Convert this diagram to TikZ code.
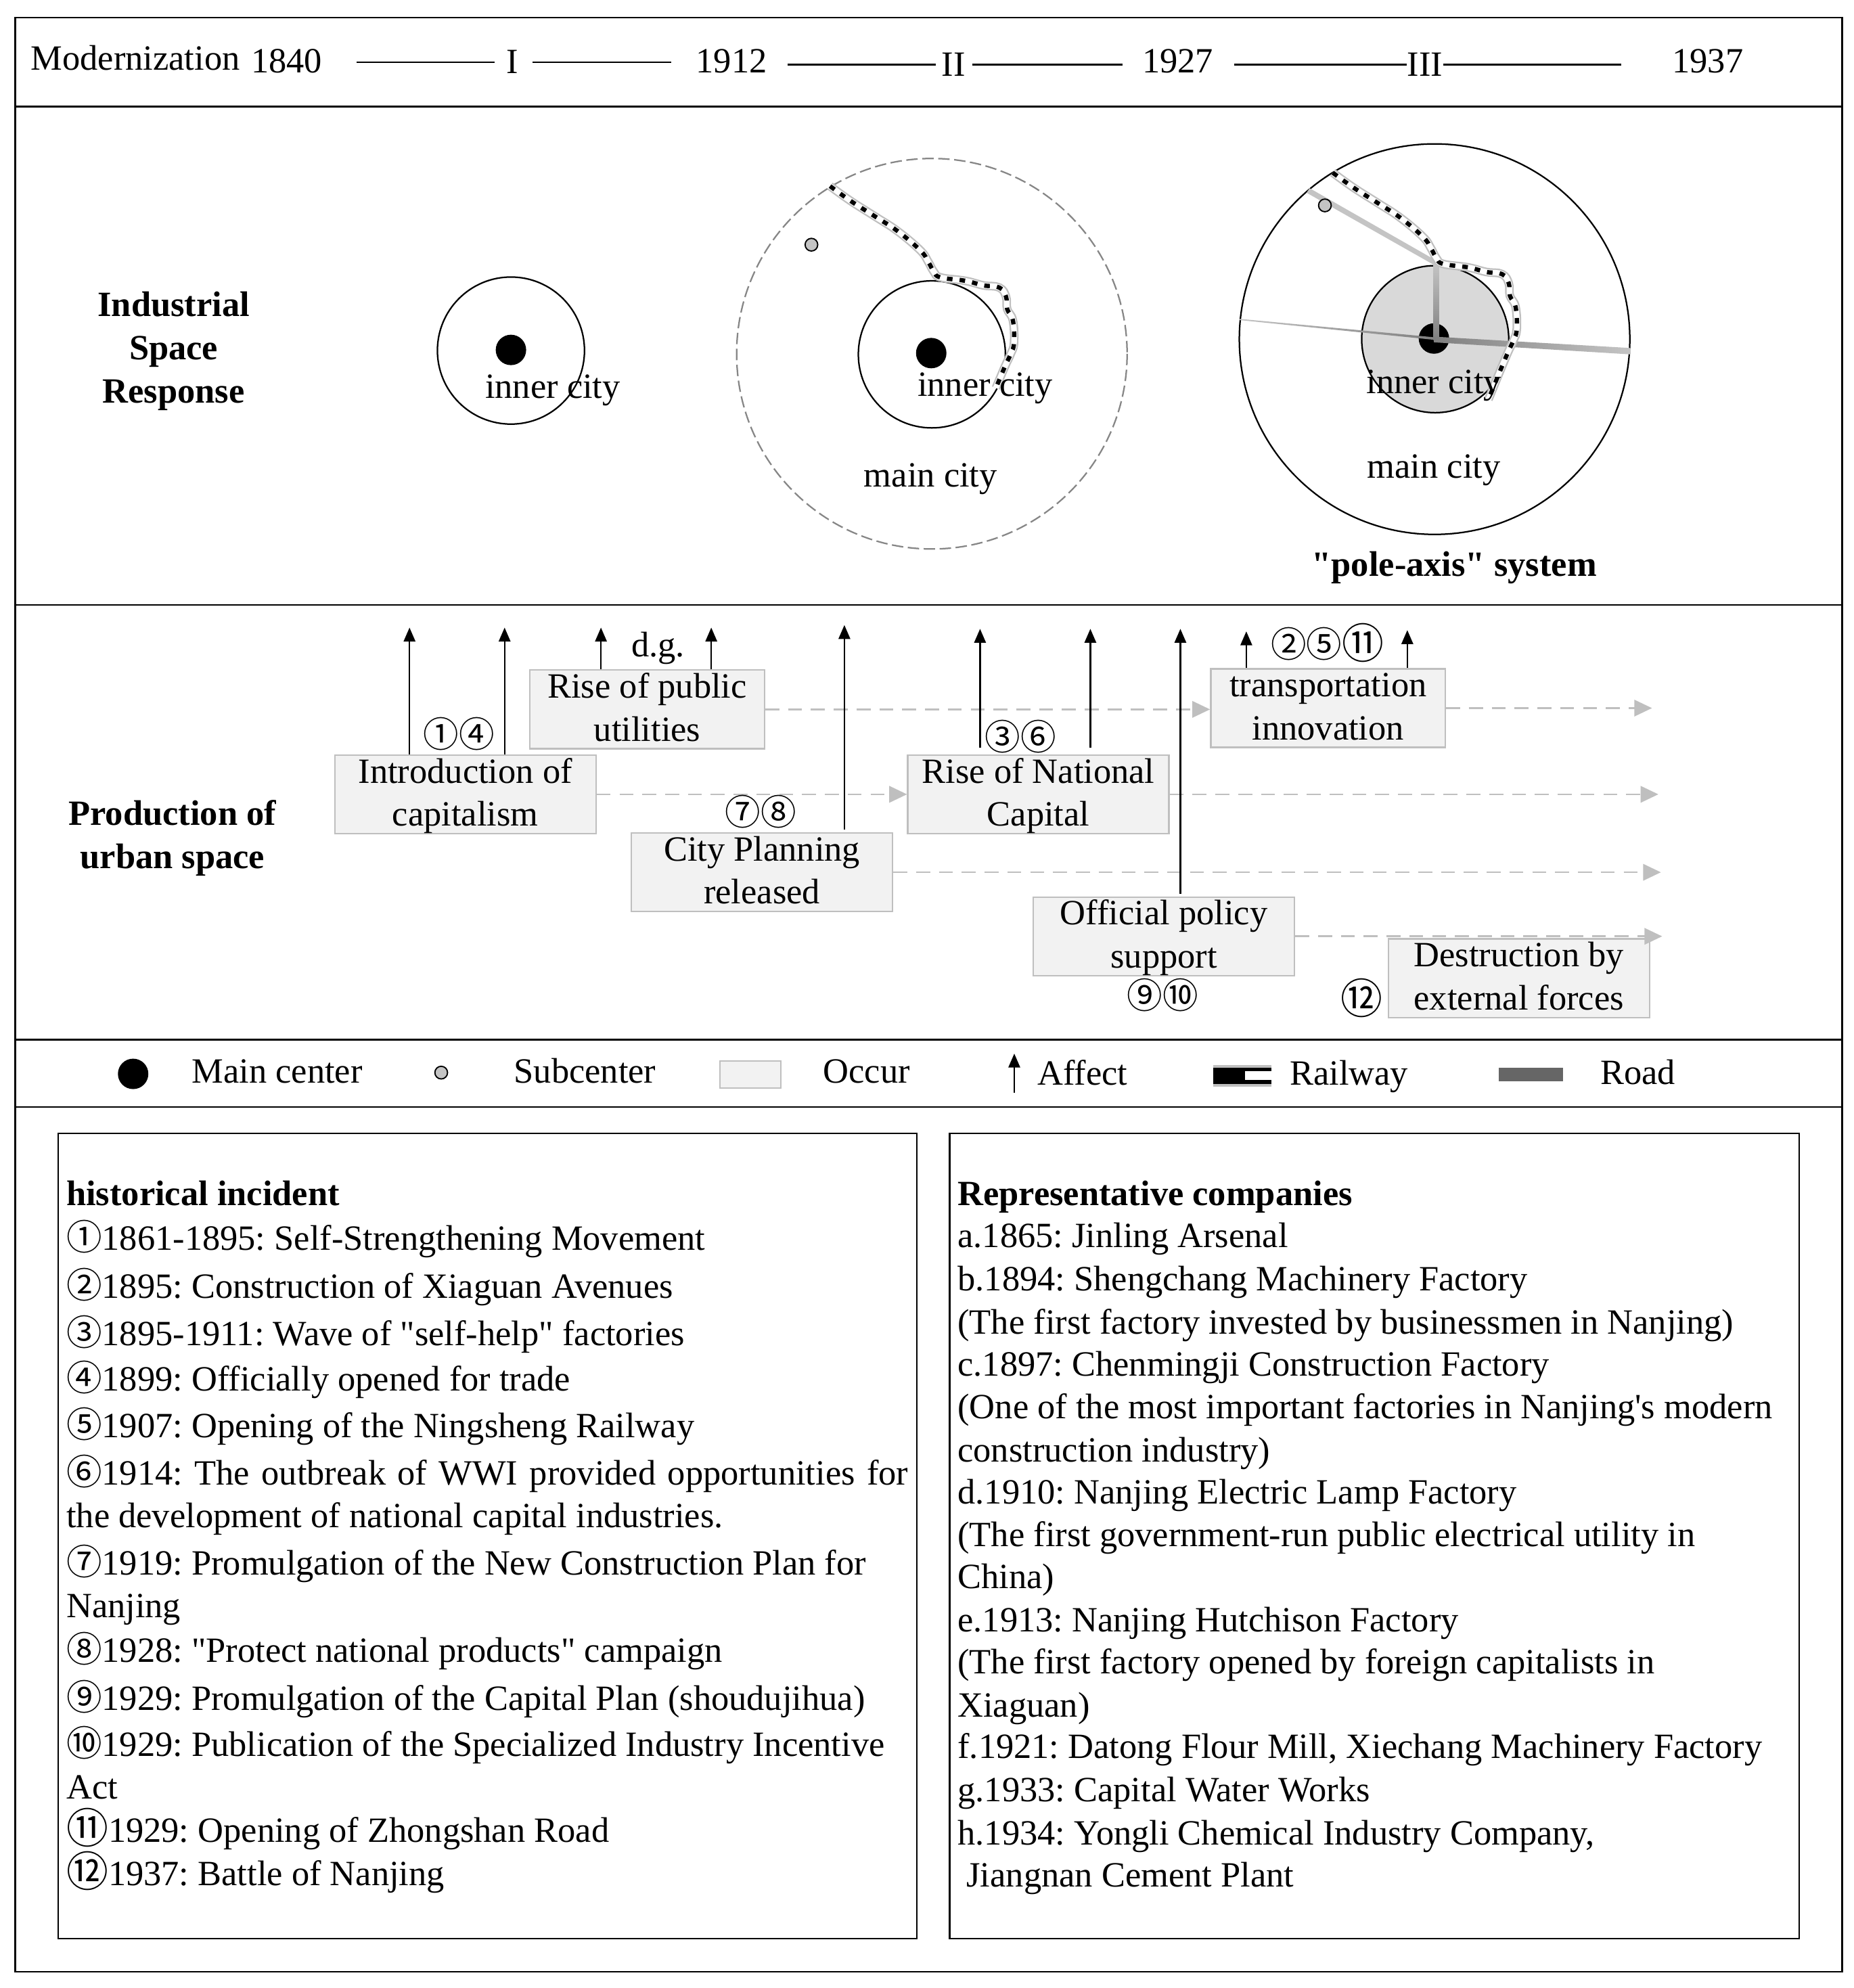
\documentclass[tikz,border=0pt]{standalone}
\usepackage{fontspec}
\setmainfont{Liberation Serif}[Ligatures=TeXOff]
\newfontfamily\circfont{Noto Sans CJK SC}
\usetikzlibrary{arrows.meta}
\frenchspacing
\definecolor{boxfill}{HTML}{F2F2F2}
\definecolor{boxline}{HTML}{BFBFBF}
\definecolor{roadlight}{HTML}{C4C4C4}
\definecolor{roadmid}{HTML}{808080}
\newcommand{\cn}[1]{{\circfont #1}}
\newcommand{\cnb}[1]{\raisebox{-0.6pt}{\fontsize{16.5}{17}\circfont #1}}
\newcommand{\occurtext}[2]{\rule{0pt}{11pt}#1\\#2\rule[-3pt]{0pt}{3pt}}
\newcommand{\railline}{plot[smooth,tension=0.7] coordinates {(-79.8,-131.8) (-63.7,-120.2) (-44.2,-107.8) (-26.4,-96.2) (-8.6,-81.1) (-2.4,-72.2) (2.1,-64.2) (7.4,-59.8) (27,-57.1) (41.2,-53.5) (53.7,-51.8) (59,-44.6) (59.9,-34.8) (64.4,-25.9) (65.3,-8.2) (62.6,0.7) (58.1,10.5) (51,27.4)}}
\tikzset{
  every node/.style={inner sep=0pt, font=\fontsize{14}{17}\selectfont},
  txt/.style={anchor=west, text height=12pt, text depth=3pt},
  head/.style={txt, font=\fontsize{14}{17}\selectfont\bfseries},
  sidelabel/.style={align=center, font=\fontsize{14}{17}\selectfont\bfseries},
  frameline/.style={black, line width=0.6pt},
  yearline/.style={black, line width=0.6pt},
  occur/.style={draw=boxline, fill=boxfill, line width=0.6pt, align=center, minimum width=103pt, minimum height=31pt},
  affect/.style={black, line width=0.6pt, -{Triangle[length=5.5pt,width=4.6pt]}},
  flow/.style={boxline, line width=0.7pt, dash pattern=on 5.5pt off 3.5pt, -{Triangle[length=7pt,width=6.5pt,fill=boxline]}},
  railway/.style={black, line width=1.7pt, dash pattern=on 2.2pt off 2.8pt,
    preaction={draw=boxline, line width=3.4pt, solid},
    preaction={draw=white, line width=2.2pt, solid}},
  subcenter/.style={draw=black, fill=roadlight, line width=0.5pt},
}
\begin{document}
\begin{tikzpicture}[x=0.5pt,y=-0.5pt]
\useasboundingbox (0,0) rectangle (1461.8,1568);
% frame
\draw[frameline] (12,14) rectangle (1453,1555);
\draw[frameline] (12,84) -- (1453,84);
\draw[frameline] (12,477) -- (1453,477);
\draw[frameline] (12,820) -- (1453,820);
\draw[frameline] (12,873) -- (1453,873);
\draw[frameline] (46,894) rectangle (723,1529);
\draw[frameline] (749,894) rectangle (1419,1529);

% time line
\node[txt] (modern) at (24,46) {Modernization};
\node (y1840) at (226,48) {1840};
\node (perI) at (404,49) {I};
\node (y1912) at (577,48) {1912};
\node (perII) at (752,51) {II};
\node (y1927) at (929,48) {1927};
\node (perIII) at (1124,51) {III};
\node (y1937) at (1347,48) {1937};
\draw[yearline, shorten <=13.5pt, shorten >=4.5pt] (y1840.east |- perI.west) -- (perI.west);
\draw[yearline, shorten <=5.5pt, shorten >=9.5pt] (perI.east) -- (y1912.west |- perI.east);
\draw[yearline, shorten <=8pt, shorten >=2pt] (y1912.east |- perII.west) -- (perII.west);
\draw[yearline, shorten <=2.5pt, shorten >=7.5pt] (perII.east) -- (y1927.west |- perII.east);
\draw[yearline, shorten <=8pt, shorten >=0pt] (y1927.east |- perIII.west) -- (perIII.west);
\draw[yearline, shorten <=0pt, shorten >=20pt] (perIII.east) -- (y1937.west |- perIII.east);

% industrial space response
\node[sidelabel] (spacelabel) at (137,277) {Industrial\\Space\\Response};

\draw[frameline] (403,276.5) circle (58);
\fill[black] (403,276) circle (12);
\node (inner1) at (436,308) {inner city};

\draw[boxline!70!black, line width=0.6pt, dash pattern=on 4.5pt off 1.8pt] (735,279) circle (154);
\draw[frameline] (735,279.5) circle (58);
\fill[black] (734.5,278.5) circle (12);
\filldraw[subcenter] (640,193) circle (5);
\begin{scope}[shift={(734.5,278.6)}]
\draw[railway] \railline;
\end{scope}
\node (inner2) at (777,306) {inner city};
\node (main2) at (734,378) {main city};

\filldraw[frameline, fill=white] (1131.5,267.5) circle (154);
\filldraw[frameline, fill=black!15] (1132,267.5) circle (58);
\fill[black] (1131,267) circle (12);
\fill[roadlight] (1033,148.5) -- (1030.5,152) -- (1132,209.5) -- (1134.5,206.5) -- cycle;
\shade[top color=roadlight, bottom color=roadmid] (1130.6,208) rectangle (1135,268);
\shade[left color=roadlight, right color=roadmid] (978,251.5) -- (1131,266) -- (1131,268) -- (978,252.5) -- cycle;
\shade[left color=roadmid, right color=roadlight] (1131,265.5) -- (1286,274.5) -- (1286,279.5) -- (1131,270) -- cycle;
\filldraw[subcenter] (1045,162) circle (5);
\begin{scope}[shift={(1131,268)}]
\draw[railway] \railline -- (43,47);
\end{scope}
\node (inner3) at (1131,304) {inner city};
\node (main3) at (1131,371) {main city};
\node[font=\fontsize{14}{17}\selectfont\bfseries] (polelabel) at (1147,448) {"pole-axis" system};

% production of urban space
\node[sidelabel] (urbanlabel) at (136,661) {Production of\\urban space};

\node[occur, minimum width=92.5pt] (public) at (510.5,559.5) {\occurtext{Rise of public}{utilities}};
\node[occur] (intro) at (367,626.5) {\occurtext{Introduction of}{capitalism}};
\node[occur] (planning) at (601,688) {\occurtext{City Planning}{released}};
\node[occur] (national) at (819,626.5) {\occurtext{Rise of National}{Capital}};
\node[occur, minimum width=92.5pt] (transport) at (1047.5,558.5) {\occurtext{transportation}{innovation}};
\node[occur] (official) at (918,738.5) {\occurtext{Official policy}{support}};
\node[occur] (destruct) at (1198,771.5) {\occurtext{Destruction by}{external forces}};

\coordinate (flowA) at (1303,558.5);
\coordinate (flowB) at (1308,626.5);
\coordinate (flowC) at (1310,688);
\coordinate (flowD) at (1311,738.5);
\draw[flow] (public.east) -- (transport.west |- public.east);
\draw[flow] (transport.east) -- (flowA);
\draw[flow] (intro.east) -- (national.west |- intro.east);
\draw[flow] (national.east) -- (flowB);
\draw[flow] (planning.east) -- (flowC);
\draw[flow] (official.east) -- (flowD);

\coordinate (tipA) at (323,495);
\coordinate (tipB) at (398,495);
\coordinate (tipC) at (474,495);
\coordinate (tipD) at (561,495);
\coordinate (tipE) at (666,493);
\coordinate (tipF) at (773,496);
\coordinate (tipG) at (860,496);
\coordinate (tipH) at (931,496);
\coordinate (tipI) at (983,498);
\coordinate (tipJ) at (1110,497);
\draw[affect] (intro.north -| tipA) -- (tipA);
\draw[affect] (intro.north -| tipB) -- (tipB);
\draw[affect] (public.north -| tipC) -- (tipC);
\draw[affect] (public.north -| tipD) -- (tipD);
\draw[affect, shorten <=1pt] (planning.north -| tipE) -- (tipE);
\draw[affect, shorten <=2.5pt] (national.north -| tipF) -- (tipF);
\draw[affect, shorten <=2.5pt] (national.north -| tipG) -- (tipG);
\draw[affect, shorten <=1pt] (official.north -| tipH) -- (tipH);
\draw[affect] (transport.north -| tipI) -- (tipI);
\draw[affect] (transport.north -| tipJ) -- (tipJ);

\node (dg) at (519,511) {d.g.};
\node (markA) at (362,579) {\cn{①④}};
\node (markB) at (600,640) {\cn{⑦⑧}};
\node (markC) at (805,581) {\cn{③⑥}};
\node (markD) at (1047,507) {\cn{②⑤}\cnb{⑪}};
\node (markE) at (917,785) {\cn{⑨⑩}};
\node (markF) at (1074,787) {\cnb{⑫}};

% legend
\fill[black] (105,847) circle (12);
\node[txt] (legA) at (151,845) {Main center};
\filldraw[subcenter] (348,846) circle (5);
\node[txt] (legB) at (405,845) {Subcenter};
\filldraw[draw=boxline, fill=boxfill, line width=0.6pt] (568,837) rectangle (616,858);
\node[txt] (legC) at (649,845) {Occur};
\coordinate (legtip) at (800,831);
\coordinate (legfoot) at (800,862);
\draw[affect] (legfoot) -- (legtip);
\node[txt] (legD) at (818,847) {Affect};
\fill[boxline] (957,840) rectangle (1003,857);
\fill[black] (957,842) rectangle (1003,855);
\fill[white] (982,845) rectangle (1003,852);
\node[txt] (legE) at (1017,847) {Railway};
\fill[black!60] (1182,842) rectangle (1233,853);
\node[txt] (legF) at (1262,846) {Road};

% historical incident
\node[head] (la) at (52,942) {historical incident};
\node[txt] (lb) at (52,977) {\cn{①}1861-1895: Self-Strengthening Movement};
\node[txt] (lc) at (52,1015) {\cn{②}1895: Construction of Xiaguan Avenues};
\node[txt] (ld) at (52,1052) {\cn{③}1895-1911: Wave of "self-help" factories};
\node[txt] (le) at (52,1088) {\cn{④}1899: Officially opened for trade};
\node[txt] (lf) at (52,1125) {\cn{⑤}1907: Opening of the Ningsheng Railway};
\node[txt] (lg) at (52,1162) {\makebox[332pt][s]{\cn{⑥}1914: The outbreak of WWI provided opportunities for}};
\node[txt] (lh) at (52,1196) {the development of national capital industries.};
\node[txt] (li) at (52,1233) {\cn{⑦}1919: Promulgation of the New Construction Plan for};
\node[txt] (lj) at (52,1267) {Nanjing};
\node[txt] (lk) at (52,1302) {\cn{⑧}1928: "Protect national products" campaign};
\node[txt] (ll) at (52,1340) {\cn{⑨}1929: Promulgation of the Capital Plan (shoudujihua)};
\node[txt] (lm) at (52,1376) {\cn{⑩}1929: Publication of the Specialized Industry Incentive};
\node[txt] (ln) at (52,1410) {Act};
\node[txt] (lo) at (52,1444) {\cnb{⑪}1929: Opening of Zhongshan Road};
\node[txt] (lp) at (52,1478) {\cnb{⑫}1937: Battle of Nanjing};

% representative companies
\node[head] (ra) at (755,942) {Representative companies};
\node[txt] (rb) at (755,975) {a.1865: Jinling Arsenal};
\node[txt] (rc) at (755,1009) {b.1894: Shengchang Machinery Factory};
\node[txt] (rd) at (755,1043) {(The first factory invested by businessmen in Nanjing)};
\node[txt] (re) at (755,1076) {c.1897: Chenmingji Construction Factory};
\node[txt] (rf) at (755,1110) {(One of the most important factories in Nanjing's modern};
\node[txt] (rg) at (755,1144) {construction industry)};
\node[txt] (rh) at (755,1177) {d.1910: Nanjing Electric Lamp Factory};
\node[txt] (ri) at (755,1211) {(The first government-run public electrical utility in};
\node[txt] (rj) at (755,1244) {China)};
\node[txt] (rk) at (755,1278) {e.1913: Nanjing Hutchison Factory};
\node[txt] (rl) at (755,1311) {(The first factory opened by foreign capitalists in};
\node[txt] (rm) at (755,1345) {Xiaguan)};
\node[txt] (rn) at (755,1378) {f.1921: Datong Flour Mill, Xiechang Machinery Factory};
\node[txt] (ro) at (755,1412) {g.1933: Capital Water Works};
\node[txt] (rp) at (755,1446) {h.1934: Yongli Chemical Industry Company,};
\node[txt] (rq) at (762,1479) {Jiangnan Cement Plant};
\end{tikzpicture}
\end{document}
